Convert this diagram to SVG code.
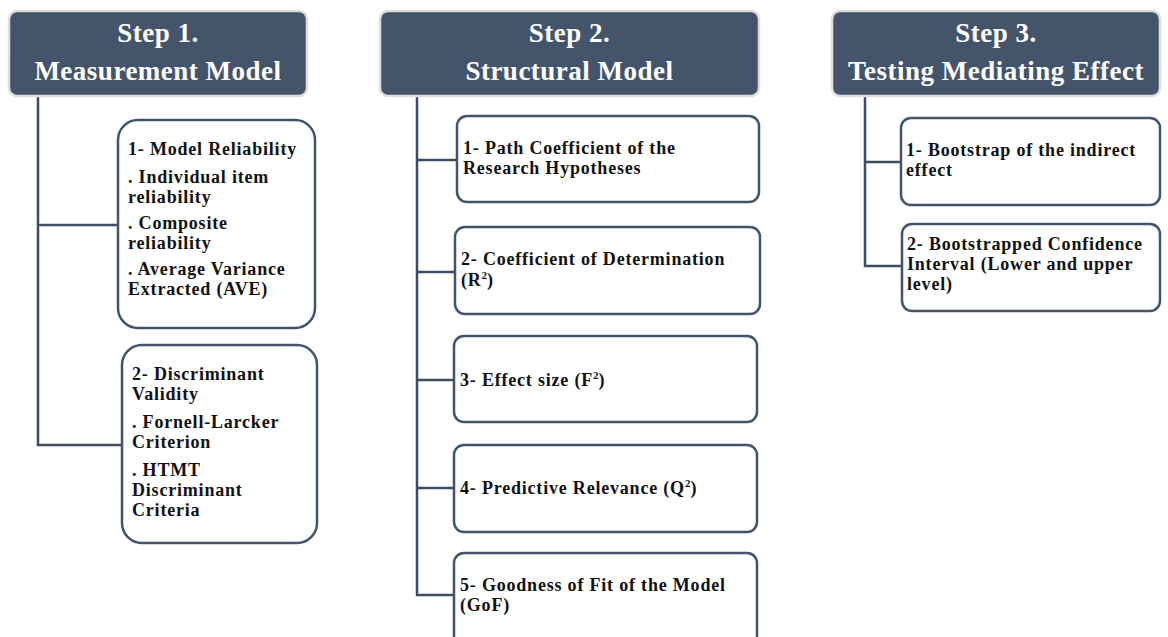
<svg xmlns="http://www.w3.org/2000/svg" width="1168" height="637" viewBox="0 0 1168 637">
<style>
.hdr{fill:#44546a;stroke:#dedede;stroke-width:2.5}
.ht{font-family:"Liberation Serif",serif;font-weight:bold;font-size:27px;letter-spacing:0.5px;fill:#ffffff;text-anchor:middle}
.box{fill:#ffffff;stroke:#44546a;stroke-width:2.5}
.bt{font-family:"Liberation Serif",serif;font-weight:bold;font-size:18px;letter-spacing:0.8px;fill:#111111}
.sup{font-size:11px;letter-spacing:0}
.con{fill:none;stroke:#3e4d61;stroke-width:2.5}
</style>
<rect width="1168" height="637" fill="#ffffff"/>
<g id="connectors">
<path class="con" d="M38 96 V445 H122 M38 225 H118"/>
<path class="con" d="M417 96 V595 H454 M417 160 H457 M417 272 H455 M417 380 H454 M417 488 H454"/>
<path class="con" d="M865 96 V266 H902 M865 162 H901"/>
</g>
<g id="step1">
<rect class="hdr" x="9" y="11" width="298" height="85" rx="8"/>
<text class="ht" x="158" y="42">Step 1.</text>
<text class="ht" x="158" y="80">Measurement Model</text>
</g>
<g id="step2">
<rect class="hdr" x="380" y="11" width="379" height="85" rx="8"/>
<text class="ht" x="569.5" y="42">Step 2.</text>
<text class="ht" x="569.5" y="80">Structural Model</text>
</g>
<g id="step3">
<rect class="hdr" x="832" y="11" width="328" height="85" rx="8"/>
<text class="ht" x="996" y="42">Step 3.</text>
<text class="ht" x="996" y="80">Testing Mediating Effect</text>
</g>
<g id="s1b1">
<rect class="box" x="118" y="120" width="197" height="208" rx="20"/>
<text class="bt" x="128" y="155">1- Model Reliability</text>
<text class="bt" x="128" y="183">. Individual item</text>
<text class="bt" x="128" y="203">reliability</text>
<text class="bt" x="128" y="229">. Composite</text>
<text class="bt" x="128" y="249">reliability</text>
<text class="bt" x="128" y="275">. Average Variance</text>
<text class="bt" x="128" y="295">Extracted (AVE)</text>
</g>
<g id="s1b2">
<rect class="box" x="122" y="345" width="195" height="198" rx="20"/>
<text class="bt" x="132" y="380">2- Discriminant</text>
<text class="bt" x="132" y="400">Validity</text>
<text class="bt" x="132" y="428">. Fornell-Larcker</text>
<text class="bt" x="132" y="448">Criterion</text>
<text class="bt" x="132" y="476">. HTMT</text>
<text class="bt" x="132" y="496">Discriminant</text>
<text class="bt" x="132" y="516">Criteria</text>
</g>
<g id="s2b1">
<rect class="box" x="457" y="116" width="302" height="86" rx="10"/>
<text class="bt" x="463" y="154">1- Path Coefficient of the</text>
<text class="bt" x="463" y="174">Research Hypotheses</text>
</g>
<g id="s2b2">
<rect class="box" x="455" y="227" width="305" height="87" rx="10"/>
<text class="bt" x="461" y="265">2- Coefficient of Determination</text>
<text class="bt" x="461" y="286">(R<tspan class="sup" dy="-7">2</tspan><tspan dy="7">)</tspan></text>
</g>
<g id="s2b3">
<rect class="box" x="454" y="336" width="303" height="86" rx="10"/>
<text class="bt" x="460" y="386">3- Effect size (F<tspan class="sup" dy="-7">2</tspan><tspan dy="7">)</tspan></text>
</g>
<g id="s2b4">
<rect class="box" x="454" y="445" width="303" height="87" rx="10"/>
<text class="bt" x="460" y="494">4- Predictive Relevance (Q<tspan class="sup" dy="-7">2</tspan><tspan dy="7">)</tspan></text>
</g>
<g id="s2b5">
<rect class="box" x="454" y="553" width="303" height="95" rx="10"/>
<text class="bt" x="460" y="591">5- Goodness of Fit of the Model</text>
<text class="bt" x="460" y="611">(GoF)</text>
</g>
<g id="s3b1">
<rect class="box" x="901" y="118" width="259" height="87" rx="10"/>
<text class="bt" x="906" y="156">1- Bootstrap of the indirect</text>
<text class="bt" x="906" y="176">effect</text>
</g>
<g id="s3b2">
<rect class="box" x="902" y="224" width="258" height="87" rx="10"/>
<text class="bt" x="907" y="250">2- Bootstrapped Confidence</text>
<text class="bt" x="907" y="270">Interval (Lower and upper</text>
<text class="bt" x="907" y="290">level)</text>
</g>
</svg>
